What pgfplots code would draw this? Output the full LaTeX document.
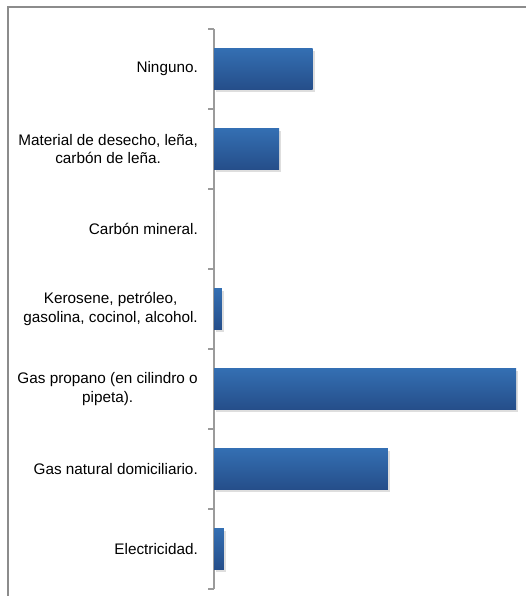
\documentclass[border=0pt]{standalone}
\usepackage{pgfplots}
\pgfplotsset{compat=1.18}
\usepackage{fontspec}
\setmainfont{Liberation Sans}
\definecolor{bartop}{RGB}{52,111,179}
\definecolor{barbot}{RGB}{37,78,137}
\definecolor{axgray}{RGB}{155,155,155}
\definecolor{framegray}{RGB}{140,140,140}
\pgfplotsset{mybar/.style={xbar, bar shift=0pt, bar width=0.5125, draw=none,
  preaction={fill=black, opacity=0.13, shade=false, transform canvas={xshift=2pt, yshift=-2.5pt}},
  top color=bartop, bottom color=barbot}}
\begin{document}
\begin{tikzpicture}[x=1pt,y=1pt]
\useasboundingbox (0,-596) rectangle (525,0);
\fill[white] (0,-596) rectangle (525,0);
\draw[framegray, line width=2pt] (8,-597) -- (8,-7) -- (526,-7);
\begin{axis}[
  at={(214pt,-589pt)}, anchor=south west,
  scale only axis, width=310pt, height=560pt,
  xmin=0, xmax=47.1, ymin=-0.5, ymax=6.5,
  axis x line=none, axis y line*=left,
  axis line style={axgray, line width=1.5pt},
  ytick={0,...,6},
  yticklabels={Electricidad., Gas natural domiciliario., {Gas propano (en cilindro o\\pipeta).}, {Kerosene, petróleo,\\gasolina, cocinol, alcohol.}, Carbón mineral., {Material de desecho, leña,\\carbón de leña.}, Ninguno.},
  minor ytick={-0.5,0.5,...,6.5},
  major tick length=0pt, minor tick length=6pt, tick align=outside,
  minor tick style={axgray, line width=1.5pt},
  major tick style={draw=none},
  yticklabel style={font=\fontsize{15.3}{18.5}\selectfont, align=center, anchor=east, inner sep=0pt, xshift=-16pt},
  clip=false,
]
\addplot[mybar] coordinates {(1.5,0)};
\addplot[mybar] coordinates {(26.4,1)};
\addplot[mybar] coordinates {(45.9,2)};
\addplot[mybar] coordinates {(1.2,3)};
\addplot[mybar] coordinates {(0,4)};
\addplot[mybar] coordinates {(9.9,5)};
\addplot[mybar] coordinates {(15.0,6)};
\end{axis}
\end{tikzpicture}
\end{document}
